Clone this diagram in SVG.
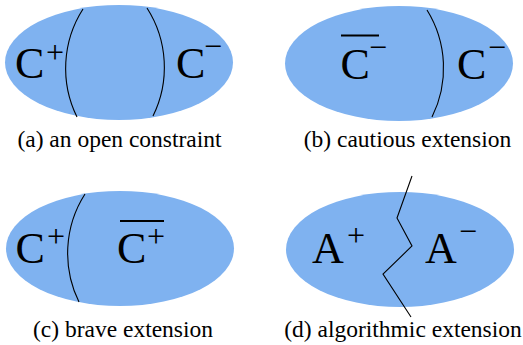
<svg xmlns="http://www.w3.org/2000/svg" width="523" height="345" viewBox="0 0 523 345">
<style>
.blob{fill:#7fb2f0;stroke:none}
.cut{fill:none;stroke:#000;stroke-width:1.1}
text{font-family:'Liberation Serif','Times New Roman',serif;fill:#000}
.big{font-size:44px}
.sup{font-size:32px}
.cap{font-size:23.5px;text-anchor:middle}
.bar{stroke:#000;stroke-width:2.2}
</style>
<rect width="523" height="345" fill="#fff"/>
<g id="a">
<ellipse class="blob" cx="119" cy="62.5" rx="114" ry="57.5"/>
<path class="cut" d="M83,9 A110,110 0 0 0 77,117"/>
<path class="cut" d="M147,8 A110,110 0 0 1 153,116"/>
<text class="big" x="15" y="78">C</text><text class="sup" x="46" y="62.5">+</text>
<text class="big" x="176" y="78">C</text><text class="sup" x="204" y="57">−</text>
<text class="cap" x="119.5" y="147">(a) an open constraint</text>
</g>
<g id="b">
<ellipse class="blob" cx="399" cy="63.5" rx="114" ry="57.5"/>
<path class="cut" d="M427,10 A110,110 0 0 1 432,117"/>
<line class="bar" x1="341" y1="35.5" x2="379" y2="35.5"/>
<text class="big" x="340.5" y="79">C</text><text class="sup" x="369" y="58">−</text>
<text class="big" x="457" y="79">C</text><text class="sup" x="488" y="58">−</text>
<text class="cap" x="407.5" y="147">(b) cautious extension</text>
</g>
<g id="c">
<ellipse class="blob" cx="120" cy="248.5" rx="114" ry="57.5"/>
<path class="cut" d="M85,194 A110,110 0 0 0 79,302"/>
<text class="big" x="15.5" y="263">C</text><text class="sup" x="47" y="246.5">+</text>
<line class="bar" x1="120" y1="221" x2="164" y2="221"/>
<text class="big" x="117" y="263">C</text><text class="sup" x="147" y="246.5">+</text>
<text class="cap" x="123" y="337">(c) brave extension</text>
</g>
<g id="d">
<ellipse class="blob" cx="400" cy="249.5" rx="114" ry="57.5"/>
<polyline class="cut" points="412,176 397,218 412,246 383,274 411,317"/>
<text class="big" x="312" y="263">A</text><text class="sup" x="347" y="246">+</text>
<text class="big" x="425" y="263">A</text><text class="sup" x="459" y="242">−</text>
<text class="cap" x="403" y="337">(d) algorithmic extension</text>
</g>
</svg>
